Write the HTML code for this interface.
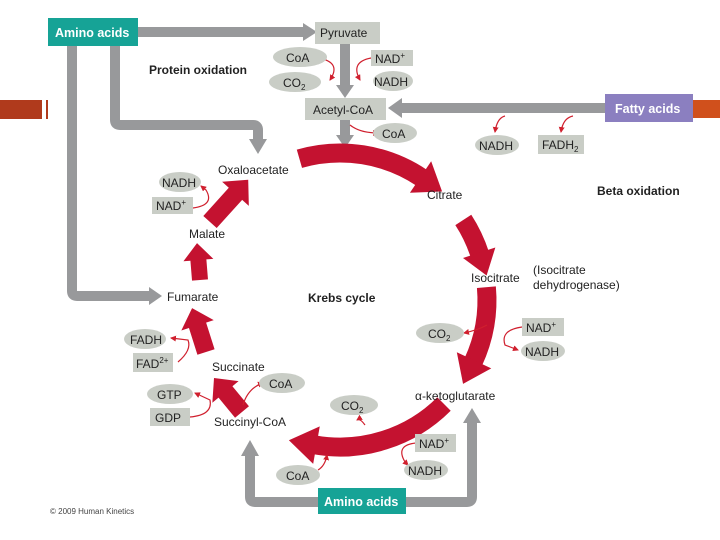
<!DOCTYPE html>
<html><head><meta charset="utf-8"><style>
html,body{margin:0;padding:0;background:#fff;}
svg{display:block;}
text{font-family:"Liberation Sans",sans-serif;font-size:12px;fill:#222;}
.b{font-weight:bold;}
.w{fill:#fff;font-weight:bold;font-size:12.5px;}
</style></head><body>
<svg width="720" height="540" viewBox="0 0 720 540" xmlns="http://www.w3.org/2000/svg">
<defs>
<marker id="m" markerWidth="6" markerHeight="6" refX="5" refY="3" orient="auto" markerUnits="userSpaceOnUse"><path d="M0,0 L6,3 L0,6 Z" fill="#d0202e"/></marker>
</defs>
<rect x="0" y="100" width="42" height="19" fill="#b03a1c"/>
<rect x="46" y="100" width="2" height="19" fill="#b03a1c"/>
<rect x="693" y="100" width="27" height="18" fill="#d0501c"/>

<g fill="none" stroke="#98999b" stroke-width="10">
<path d="M138,32 H304"/>
<path d="M72,46 V291 Q72,296 77,296 H150"/>
<path d="M115,46 V120 Q115,125 120,125 H253 Q258,125 258,130 V140"/>
<path d="M345,44 V86"/>
<path d="M345,120 V136"/>
<path d="M605,108 H400"/>
<path d="M318,502 H255 Q250,502 250,497 V455"/>
<path d="M406,502 H467 Q472,502 472,497 V422"/>
</g>
<g fill="#98999b">
<polygon points="303,23 317,32 303,41"/>
<polygon points="149,287 162,296 149,305"/>
<polygon points="249,139 267,139 258,154"/>
<polygon points="336,85 354,85 345,98"/>
<polygon points="336,135 354,135 345,148"/>
<polygon points="402,98 388,108 402,118"/>
<polygon points="241,456 259,456 250,440"/>
<polygon points="463,423 481,423 472,408"/>
</g>

<rect x="48" y="18" width="90" height="28" fill="#16a396"/>
<text x="55" y="37" class="w">Amino acids</text>
<rect x="315" y="22" width="65" height="22" fill="#c9cdc6"/>
<text x="320" y="37">Pyruvate</text>
<rect x="305" y="98" width="81" height="22" fill="#c9cdc6"/>
<text x="313" y="114">Acetyl-CoA</text>
<rect x="605" y="94" width="88" height="28" fill="#8b7fc0"/>
<text x="615" y="113" class="w">Fatty acids</text>
<rect x="318" y="488" width="88" height="26" fill="#16a396"/>
<text x="324" y="506" class="w">Amino acids</text>

<g fill="none" stroke="#c41230" stroke-width="19">
<path d="M299.4,158.7 A147,147 0 0 1 422.2,178.1"/>
<path d="M463.3,219.9 A147,147 0 0 1 479.8,254.6"/>
<path d="M486.4,287.2 A147,147 0 0 1 473.2,362.1"/>
<path d="M444,404 A147,147 0 0 1 314.5,444.8"/>
</g>
<g fill="#c41230">
<g transform="translate(422.2,178.1) rotate(34)"><polygon points="-2,-19 24,0 -2,19"/></g>
<g transform="translate(479.8,254.6) rotate(72)"><polygon points="-2,-17 22,0 -2,17"/></g>
<g transform="translate(473.2,362.1) rotate(115)"><polygon points="-2,-19 24,0 -2,19"/></g>
<g transform="translate(314.5,444.8) rotate(190)"><polygon points="-2,-19 26,0 -2,19"/></g>
<g transform="translate(242,412) rotate(-129.5)"><polygon points="0,-9 26,-9 26,-17 44,0 26,17 26,9 0,9"/></g>
<g transform="translate(206,352) rotate(-107.6)"><polygon points="0,-9 28,-9 28,-17 46,0 28,17 28,9 0,9"/></g>
<g transform="translate(200,280) rotate(-94.6)"><polygon points="0,-8 20,-8 20,-15 37,0 20,15 20,8 0,8"/></g>
<g transform="translate(210,222) rotate(-47.9)"><polygon points="0,-9 38,-9 38,-18 57,0 38,18 38,9 0,9"/></g>
</g>

<g fill="none" stroke="#d0202e" stroke-width="1.2" marker-end="url(#m)">
<path d="M318,58 Q342,62 330,80"/>
<path d="M371,58 Q350,62 360,80"/>
<path d="M350,125 Q360,133 378,133"/>
<path d="M505,116 Q497,118 495,132"/>
<path d="M573,116 Q563,118 561,132"/>
<path d="M193,208 Q215,205 206,190 L201,186"/>
<path d="M178,362 Q192,350 188,340 L171,338"/>
<path d="M190,417 Q213,415 210,400 L195,393"/>
<path d="M243,405 Q248,388 263,383"/>
<path d="M522,327 Q500,330 505,345 L518,350"/>
<path d="M487,325 Q478,330 464,333"/>
<path d="M416,443 Q395,445 405,462 L408,465"/>
<path d="M318,470 Q325,466 327,455"/>
<path d="M365,425 Q360,418 357,420"/>
</g>

<g fill="#c9cdc6">
<ellipse cx="300" cy="57" rx="27" ry="10"/>
<ellipse cx="295" cy="82" rx="26" ry="10"/>
<rect x="371" y="50" width="42" height="16"/>
<ellipse cx="393" cy="81" rx="20" ry="10"/>
<ellipse cx="395" cy="133" rx="22" ry="10"/>
<ellipse cx="497" cy="145" rx="22" ry="10"/>
<rect x="538" y="135" width="46" height="19"/>
<ellipse cx="180" cy="182" rx="21" ry="10"/>
<rect x="152" y="197" width="41" height="17"/>
<ellipse cx="145" cy="339" rx="21" ry="10"/>
<rect x="133" y="353" width="40" height="19"/>
<ellipse cx="170" cy="394" rx="23" ry="10"/>
<rect x="150" y="408" width="40" height="18"/>
<ellipse cx="282" cy="383" rx="23" ry="10"/>
<ellipse cx="354" cy="405" rx="24" ry="10"/>
<ellipse cx="440" cy="333" rx="24" ry="10"/>
<rect x="522" y="318" width="42" height="18"/>
<ellipse cx="543" cy="351" rx="22" ry="10"/>
<rect x="415" y="434" width="41" height="18"/>
<ellipse cx="426" cy="470" rx="22" ry="10"/>
<ellipse cx="298" cy="475" rx="22" ry="10"/>
</g>
<g>
<text x="286" y="62">CoA</text>
<text x="283" y="87">CO<tspan font-size="8" dy="3">2</tspan></text>
<text x="375" y="63">NAD<tspan font-size="8" dy="-5">+</tspan></text>
<text x="374" y="86">NADH</text>
<text x="382" y="138">CoA</text>
<text x="479" y="150">NADH</text>
<text x="542" y="149">FADH<tspan font-size="8" dy="3">2</tspan></text>
<text x="162" y="187">NADH</text>
<text x="156" y="210">NAD<tspan font-size="8" dy="-5">+</tspan></text>
<text x="130" y="344">FADH</text>
<text x="136" y="368">FAD<tspan font-size="8" dy="-5">2+</tspan></text>
<text x="157" y="399">GTP</text>
<text x="155" y="422">GDP</text>
<text x="269" y="388">CoA</text>
<text x="341" y="410">CO<tspan font-size="8" dy="3">2</tspan></text>
<text x="428" y="338">CO<tspan font-size="8" dy="3">2</tspan></text>
<text x="526" y="332">NAD<tspan font-size="8" dy="-5">+</tspan></text>
<text x="525" y="356">NADH</text>
<text x="419" y="448">NAD<tspan font-size="8" dy="-5">+</tspan></text>
<text x="408" y="475">NADH</text>
<text x="286" y="480">CoA</text>
</g>

<text x="149" y="74" class="b">Protein oxidation</text>
<text x="597" y="195" class="b">Beta oxidation</text>
<text x="308" y="302" class="b">Krebs cycle</text>
<text x="218" y="174">Oxaloacetate</text>
<text x="427" y="199">Citrate</text>
<text x="471" y="282">Isocitrate</text>
<text x="533" y="274">(Isocitrate</text>
<text x="533" y="289">dehydrogenase)</text>
<text x="415" y="400">α-ketoglutarate</text>
<text x="214" y="426">Succinyl-CoA</text>
<text x="212" y="371">Succinate</text>
<text x="167" y="301">Fumarate</text>
<text x="189" y="238">Malate</text>
<text x="50" y="514" style="font-size:8px;fill:#444">© 2009 Human Kinetics</text>
</svg>
</body></html>
